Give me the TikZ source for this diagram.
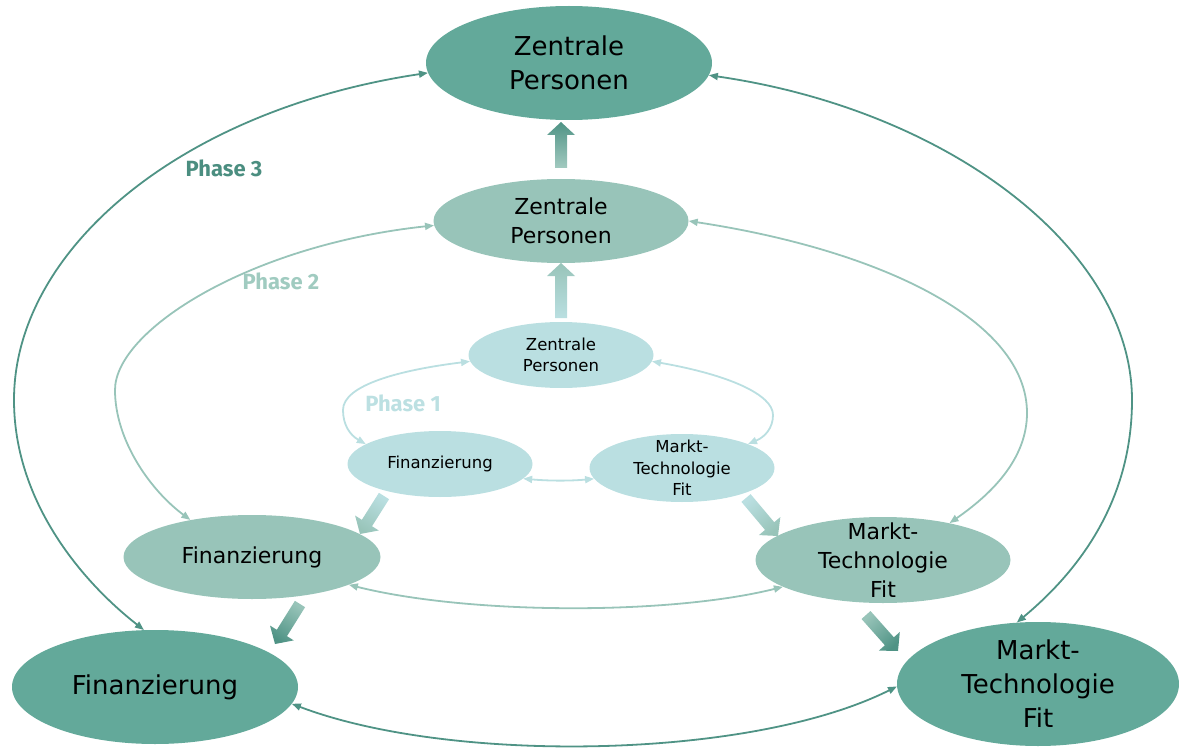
\documentclass[tikz,border=0pt]{standalone}
\usepackage{fontspec}
\setmainfont{DejaVu Sans}
\newfontfamily\phasefont{Fira Sans}
\usetikzlibrary{shapes.geometric,arrows.meta,calc}

\definecolor{ringC}{HTML}{63A99A}
\definecolor{ringB}{HTML}{98C4B9}
\definecolor{ringA}{HTML}{BADFE1}
\definecolor{lineC}{HTML}{4F9385}
\definecolor{lineB}{HTML}{98C4B9}
\definecolor{lineA}{HTML}{BADFE1}
\definecolor{textC}{HTML}{4B8E80}
\definecolor{textB}{HTML}{A0CBC0}
\definecolor{textA}{HTML}{BCE0E2}

\tikzset{
  bubble/.style={ellipse, inner sep=0pt, draw=none},
  lbl/.style={align=center, text=black, inner sep=0pt},
  bigbubble/.style={bubble, fill=ringC, minimum width=286pt, minimum height=114pt},
  midbubble/.style={bubble, fill=ringB, minimum width=255pt, minimum height=84pt},
  smallbubble/.style={bubble, fill=ringA, minimum width=185pt, minimum height=66pt},
  biglbl/.style={lbl, font=\fontsize{26}{34}\selectfont},
  midlbl/.style={lbl, font=\fontsize{22}{29}\selectfont},
  smalllbl/.style={lbl, font=\fontsize{16.5}{21.5}\selectfont},
  link/.style={{Triangle[length=9pt,width=7pt]}-{Triangle[length=9pt,width=7pt]}, line width=1.8pt},
  linkC/.style={link, draw=lineC},
  linkB/.style={link, draw=lineB},
  linkA/.style={link, draw=lineA},
  phase/.style={font=\phasefont\bfseries\fontsize{22}{26}\selectfont, inner sep=0pt},
}

% shaded block arrow: #1 tail, #2 tip, #3 tail colour, #4 tip colour, #5 shading angle
\newcommand\fatarrow[5]{%
  \coordinate (fa-h) at ($(#2)!13pt!(#1)$);
  \shade[bottom color=#3, top color=#4, shading angle=#5]
    ($(#1)!6pt!90:(#2)$) -- ($(fa-h)!6pt!90:(#2)$) -- ($(fa-h)!14pt!90:(#2)$)
    -- (#2)
    -- ($(fa-h)!14pt!-90:(#2)$) -- ($(fa-h)!6pt!-90:(#2)$) -- ($(#1)!6pt!-90:(#2)$) -- cycle;
}

\begin{document}
\begin{tikzpicture}[x=1pt, y=-1pt]
\useasboundingbox (0,0) rectangle (1179,749);

% outer ring (phase 3)
\node[bigbubble, label={[biglbl]center:{Zentrale\\Personen}}] (Z3) at (569,63) {};
\node[bigbubble, label={[biglbl]center:{Finanzierung}}] (F3) at (155,687) {};
\node[bigbubble, minimum width=282pt, minimum height=124pt,
      label={[biglbl]center:{Markt-\\Technologie\\Fit}}] (M3) at (1038,684) {};

% middle ring (phase 2)
\node[midbubble, label={[midlbl]center:{Zentrale\\Personen}}] (Z2) at (561,221) {};
\node[midbubble, minimum width=257pt, label={[midlbl]center:{Finanzierung}}] (F2) at (252,557) {};
\node[midbubble, minimum height=86pt, label={[midlbl]center:{Markt-\\Technologie\\Fit}}] (M2) at (883,560) {};

% inner ring (phase 1)
\node[smallbubble, label={[smalllbl]center:{Zentrale\\Personen}}] (Z1) at (561,355) {};
\node[smallbubble, label={[smalllbl]center:{Finanzierung}}] (F1) at (440,464) {};
\node[smallbubble, minimum height=68pt, label={[smalllbl]center:{Markt-\\Technologie\\Fit}}] (M1) at (682,468) {};

% phase labels
\node[phase, text=textC] (p3) at (224,168) {Phase 3};
\node[phase, text=textB] (p2) at (281,281) {Phase 2};
\node[phase, text=textA] (p1) at (403,403) {Phase 1};

% phase 3 links
\draw[linkC] (Z3.184) .. controls (180,110) and (14,250) .. (14,400)
  .. controls (14,500) and (80,580) .. (F3.101);
\draw[linkC] (Z3.355) .. controls (950,110) and (1132,250) .. (1132,400)
  .. controls (1132,500) and (1080,570) .. (M3.109);
\draw[linkC] (F3.353) .. controls (450,764) and (750,760) .. (M3.181);

% phase 2 links
\draw[linkB] (Z2.182) .. controls (250,245) and (115,330) .. (115,390)
  .. controls (115,440) and (150,490) .. (F2.149);
\draw[linkB] (Z2.0) .. controls (880,250) and (1027,320) .. (1027,413)
  .. controls (1027,460) and (990,495) .. (M2.29);
\draw[linkB] (F2.344) .. controls (470,615) and (670,615) .. (M2.195);

% phase 1 links
\draw[linkA] (Z1.184) .. controls (400,370) and (343,385) .. (343,410)
  .. controls (343,425) and (350,435) .. (F1.165);
\draw[linkA] (Z1.356) .. controls (730,375) and (773,395) .. (773,415)
  .. controls (773,428) and (765,437) .. (M1.20);
\draw[linkA] (F1.350) .. controls (550,481) and (570,481) .. (M1.187);

% transitions between the rings
\coordinate (zb-t) at (561,168); \coordinate (zb-h) at (561,122);
\coordinate (za-t) at (561,318); \coordinate (za-h) at (561,263);
\coordinate (fa-t) at (384,496); \coordinate (fa-p) at (360,534);
\coordinate (fb-t) at (300,604); \coordinate (fb-p) at (275,644);
\coordinate (ma-t) at (746,498); \coordinate (ma-p) at (778,536);
\coordinate (mb-t) at (866,615); \coordinate (mb-p) at (898,651);

\fatarrow{zb-t}{zb-h}{ringB!90!white}{lineC}{0}
\fatarrow{za-t}{za-h}{ringA}{ringB}{0}
\fatarrow{fa-t}{fa-p}{ringA}{ringB}{148}
\fatarrow{fb-t}{fb-p}{ringB}{lineC}{148}
\fatarrow{ma-t}{ma-p}{ringA}{ringB}{-140}
\fatarrow{mb-t}{mb-p}{ringB}{lineC}{-138}
\end{tikzpicture}
\end{document}
